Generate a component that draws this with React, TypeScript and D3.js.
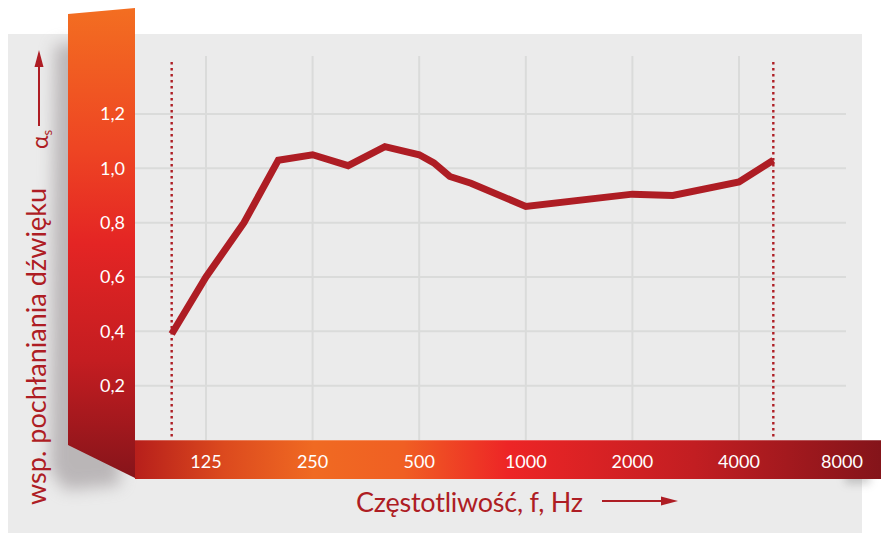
import React from 'react';
import * as d3 from 'd3';

// values
const freqs = [100, 125, 160, 200, 250, 315, 400, 500, 550, 610, 700, 1000, 2000, 2600, 4000, 5000];
const alphaValues = [0.39, 0.6, 0.8, 1.03, 1.05, 1.01, 1.08, 1.05, 1.02, 0.97, 0.945, 0.86, 0.905, 0.9, 0.95, 1.03];
const xTicks = [125, 250, 500, 1000, 2000, 4000, 8000];
const xGrid = [125, 250, 500, 1000, 2000, 4000];
const yTicks = [0.2, 0.4, 0.6, 0.8, 1.0, 1.2];
const limits = [100, 5000];

const RED = '#ae1d24';
const FONT = 'Lato, "Open Sans", sans-serif';

export default function App() {
  const x = d3.scaleLog().base(2).domain([125, 4000]).range([206, 739]);
  const y = d3.scaleLinear().domain([0, 1.2]).range([440, 114]);

  const line = d3.line<number>()
    .x((d, i) => x(freqs[i]))
    .y(d => y(d));

  const fmt = (v: number) => v.toFixed(1).replace('.', ',');

  return (
    <svg width={881} height={535} style={{ position: 'absolute', left: 0, top: 0 }}>
      <defs>
        <linearGradient id="sideGrad" x1="0" y1="0" x2="0" y2="1">
          <stop offset="0%" stopColor="#f36e21" />
          <stop offset="30%" stopColor="#ee4523" />
          <stop offset="50%" stopColor="#e42524" />
          <stop offset="75%" stopColor="#c41d21" />
          <stop offset="100%" stopColor="#86141a" />
        </linearGradient>
        <linearGradient id="baseGrad" x1="0" y1="0" x2="1" y2="0">
          <stop offset="0%" stopColor="#b71f1b" />
          <stop offset="12%" stopColor="#dc4a1e" />
          <stop offset="24%" stopColor="#f06a22" />
          <stop offset="36%" stopColor="#f05f23" />
          <stop offset="50%" stopColor="#ed2526" />
          <stop offset="75%" stopColor="#c21e22" />
          <stop offset="100%" stopColor="#84141a" />
        </linearGradient>
        <filter id="blur" x="-50%" y="-50%" width="200%" height="200%">
          <feGaussianBlur stdDeviation="8" />
        </filter>
        <filter id="blurSmall" x="-50%" y="-50%" width="200%" height="200%">
          <feGaussianBlur stdDeviation="4" />
        </filter>
      </defs>

      {/* panel */}
      <rect x={8} y={34} width={854} height={499} fill="#ebebeb" />

      {/* shadows */}
      <polygon points="55,45 110,40 120,485 65,490 50,470" fill="#8a8285" opacity={0.5} filter="url(#blur)" />
      <rect x={845} y={466} width={25} height={18} fill="#777" opacity={0.35} filter="url(#blurSmall)" />

      {/* grid */}
      {yTicks.map(t => (
        <line key={'h' + t} x1={135} x2={846} y1={y(t)} y2={y(t)} stroke="#dadbda" strokeWidth={2} />
      ))}
      {xGrid.map(f => (
        <line key={'v' + f} x1={x(f)} x2={x(f)} y1={56} y2={442} stroke="#dadbda" strokeWidth={2} />
      ))}

      {/* measurement range */}
      {limits.map(f => (
        <line key={'l' + f} x1={x(f)} x2={x(f)} y1={62} y2={442} stroke={RED} strokeWidth={2.4}
          strokeDasharray="2.4,3.6" />
      ))}

      {/* curve */}
      <path d={line(alphaValues) || ''} fill="none" stroke={RED} strokeWidth={7} strokeLinejoin="miter" />

      {/* side bar */}
      <polygon points="68,14 135,8 135,478 68,445" fill="url(#sideGrad)" />
      {yTicks.map(t => (
        <text key={'yt' + t} x={125} y={y(t)} dy="0.36em" textAnchor="end" fill="#fff"
          fontFamily={FONT} fontSize={18}>{fmt(t)}</text>
      ))}

      {/* base bar */}
      <rect x={135} y={440} width={746} height={39} fill="url(#baseGrad)" />
      <line x1={135} x2={881} y1={440.5} y2={440.5} stroke="#fff" strokeOpacity={0.25} />
      {xTicks.map(f => (
        <text key={'xt' + f} x={f === 8000 ? 842 : x(f)} y={468} textAnchor="middle" fill="#fff"
          fontFamily={FONT} fontSize={18}>{f}</text>
      ))}

      {/* axis titles */}
      <text transform="translate(46,505) rotate(-90)" fill={RED} fontFamily={FONT} fontSize={27}
        textLength={317} lengthAdjust="spacing">wsp. pochłaniania dźwięku</text>
      <text transform="translate(48,149) rotate(-90)" fill={RED} fontFamily={FONT} fontSize={23}>
        α<tspan fontSize={13} dy={4}>s</tspan>
      </text>
      <line x1={39} x2={39} y1={126} y2={64} stroke={RED} strokeWidth={2} />
      <polygon points="39,50 34.5,67 43.5,67" fill={RED} />

      <text x={356} y={512} fill={RED} fontFamily={FONT} fontSize={27}
        textLength={227} lengthAdjust="spacing">Częstotliwość, f, Hz</text>
      <line x1={602} x2={664} y1={501} y2={501} stroke={RED} strokeWidth={2} />
      <polygon points="678,501 661,496.5 661,505.5" fill={RED} />
    </svg>
  );
}
